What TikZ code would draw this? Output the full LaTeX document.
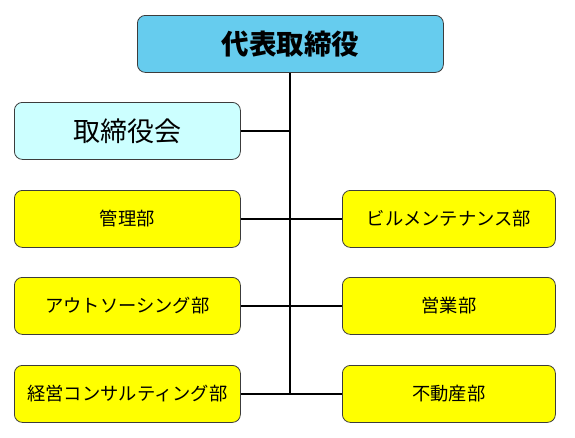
\documentclass[tikz,border=0pt]{standalone}
\usepackage{fontspec}
\newfontfamily\jp{Noto Sans CJK JP}
\definecolor{topblue}{RGB}{102,204,238}
\definecolor{paleblue}{RGB}{204,255,255}
\definecolor{boxyellow}{RGB}{255,255,0}
\definecolor{edge}{RGB}{60,60,60}
\begin{document}
\begin{tikzpicture}[x=1pt,y=-1pt,
  orgbox/.style={draw=edge,line width=0.8pt,rounded corners=8pt,inner sep=0pt,anchor=north west},
  dept/.style={orgbox,fill=boxyellow,font=\jp\fontsize{18.3}{20}\selectfont},
  link/.style={line width=1.4pt,black}]
\useasboundingbox (0,0) rectangle (575,437);
\fill[white] (0,0) rectangle (575,437);
\node[orgbox,fill=topblue,minimum width=306pt,minimum height=57pt,font=\jp\bfseries\fontsize{27.5}{29}\selectfont] (ceo) at (137,15) {代表取締役};
\node[orgbox,fill=paleblue,minimum width=226pt,minimum height=57pt,font=\jp\fontsize{27}{29}\selectfont] (board) at (14,102) {取締役会};
\node[dept,minimum width=226pt,minimum height=57pt] (kanri) at (14,190) {管理部};
\node[dept,minimum width=226pt,minimum height=57pt] (out) at (14,277) {アウトソーシング部};
\node[dept,minimum width=226pt,minimum height=57pt] (keiei) at (14,365) {経営コンサルティング部};
\node[dept,minimum width=213pt,minimum height=57pt] (bill) at (342,190) {ビルメンテナンス部};
\node[dept,minimum width=213pt,minimum height=57pt] (eigyo) at (342,277) {営業部};
\node[dept,minimum width=213pt,minimum height=57pt] (fudo) at (342,365) {不動産部};
\coordinate (bot) at (290,393);
\draw[link] (ceo.south -| bot) -- (bot);
\draw[link] (board.east) -- (board.east -| bot);
\draw[link] (kanri.east) -- (bill.west);
\draw[link] (out.east) -- (eigyo.west);
\draw[link] (keiei.east) -- (fudo.west);
\end{tikzpicture}
\end{document}
